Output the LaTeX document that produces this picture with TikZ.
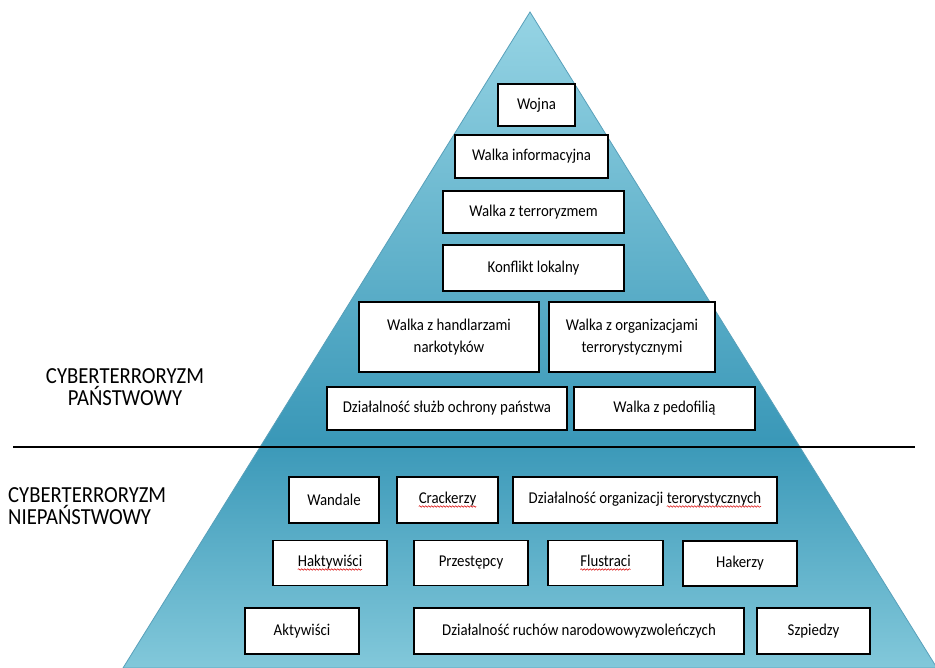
\documentclass[tikz,border=0pt]{standalone}
\usepackage{fontspec}
\setmainfont{Carlito}[FakeStretch=0.9]
\usetikzlibrary{decorations.pathmorphing}
\definecolor{piramGora}{RGB}{150,212,228}
\definecolor{piramSrodek}{RGB}{58,152,184}
\definecolor{piramDol}{RGB}{130,200,218}
\definecolor{piramBrzeg}{RGB}{88,160,186}
\tikzset{
  ramka/.style={draw=black,fill=white,line width=1.3pt,inner sep=2pt,align=center,
    font=\fontsize{16.5}{21.5}\selectfont},
  napis/.style={font=\fontsize{23}{21.5}\selectfont,inner sep=0pt},
  falka/.style={red!85!black,line width=.5pt,decorate,
    decoration={snake,amplitude=.8pt,segment length=3pt}},
  slowo/.style={draw=none,fill=none,inner sep=0pt,outer sep=0pt,
    minimum width=0pt,minimum height=0pt,line width=.4pt}
}
\newcommand{\bladzik}[1]{\tikz[baseline=(s.base)]{\node[slowo] (s) {#1};
  \draw[falka] ([yshift=-2.5pt]s.base west) -- ([yshift=-2.5pt]s.base east);}}
\begin{document}
\begin{tikzpicture}[x=1pt,y=-1pt]
\useasboundingbox (0,0) rectangle (935,668);
\coordinate (szczyt) at (530,12);
\coordinate (lewyRog) at (123,668);
\coordinate (prawyRog) at (937,668);
\begin{scope}
\clip (szczyt)--(lewyRog)--(prawyRog)--cycle;
\shade[top color=piramGora,bottom color=piramSrodek] (0,12) rectangle (935,440);
\shade[top color=piramSrodek,bottom color=piramDol] (0,440) rectangle (935,668);
\end{scope}
\draw[piramBrzeg,line width=.8pt] (szczyt)--(lewyRog)--(prawyRog)--cycle;
\coordinate (kreskaL) at (13,447);
\coordinate (kreskaP) at (915,447);
\draw[line width=1.6pt] (kreskaL)--(kreskaP);
\node[napis,align=center] (panstwowy) at (125,387) {CYBERTERRORYZM\\PAŃSTWOWY};
\node[napis,align=left,anchor=west] (niepanstwowy) at (8,506) {CYBERTERRORYZM\\NIEPAŃSTWOWY};
\node[ramka,minimum width=77pt,minimum height=42pt] (wojna) at (536.5,105) {Wojna};
\node[ramka,minimum width=153pt,minimum height=43pt] (informacyjna) at (531.5,156.5) {Walka informacyjna};
\node[ramka,minimum width=181pt,minimum height=42pt] (terroryzm) at (533.5,212) {Walka z terroryzmem};
\node[ramka,minimum width=181pt,minimum height=46pt] (konflikt) at (533.5,268) {Konflikt lokalny};
\node[ramka,minimum width=180pt,minimum height=70pt] (handlarze) at (449,337) {Walka z handlarzami\\narkotyków};
\node[ramka,minimum width=166pt,minimum height=70pt] (organizacje) at (632,337) {Walka z organizacjami\\terrorystycznymi};
\node[ramka,minimum width=240pt,minimum height=43pt] (sluzby) at (447,408.5) {Działalność służb ochrony państwa};
\node[ramka,minimum width=181pt,minimum height=43pt] (pedofilia) at (664.5,408.5) {Walka z pedofilią};
\node[ramka,minimum width=90pt,minimum height=46pt] (wandale) at (334,500) {Wandale};
\node[ramka,minimum width=101pt,minimum height=46pt] (crackerzy) at (447.5,500) {\bladzik{Crackerzy}};
\node[ramka,minimum width=264pt,minimum height=46pt] (terorysci) at (645,500) {Działalność organizacji \bladzik{terorystycznych}};
\node[ramka,minimum width=114pt,minimum height=45pt] (haktywisci) at (330,563) {\bladzik{Haktywiści}};
\node[ramka,minimum width=114pt,minimum height=45pt] (przestepcy) at (471,563) {Przestępcy};
\node[ramka,minimum width=115pt,minimum height=45pt] (flustraci) at (605.5,563) {\bladzik{Flustraci}};
\node[ramka,minimum width=114pt,minimum height=45pt] (hakerzy) at (740,563.5) {Hakerzy};
\node[ramka,minimum width=114pt,minimum height=46pt] (aktywisci) at (302,631) {Aktywiści};
\node[ramka,minimum width=330pt,minimum height=46pt] (ruchy) at (579,631) {Działalność ruchów narodowowyzwoleńczych};
\node[ramka,minimum width=113pt,minimum height=46pt] (szpiedzy) at (813.5,631) {Szpiedzy};
\end{tikzpicture}
\end{document}
